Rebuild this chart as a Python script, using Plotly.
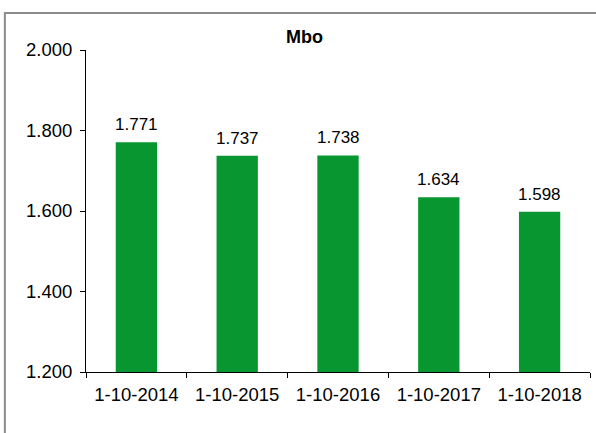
import plotly.graph_objects as go

dates = ['1-10-2014', '1-10-2015', '1-10-2016', '1-10-2017', '1-10-2018']
mbo = [1771, 1737, 1738, 1634, 1598]
y_ticks = [1200, 1400, 1600, 1800, 2000]

BAR_GREEN = '#07962F'

fig = go.Figure()
fig.add_trace(
    go.Bar(
        x=dates,
        y=mbo,
        marker_color=BAR_GREEN,
        marker_line_width=0,
        width=0.41,
    )
)

fig.update_layout(
    width=596,
    height=433,
    margin=dict(l=86, r=6, t=50, b=61),
    paper_bgcolor='#ffffff',
    plot_bgcolor='#ffffff',
    separators=',.',
    showlegend=False,
    font=dict(family='Liberation Sans, Arial', color='#000000'),
    xaxis=dict(
        type='category',
        tickson='boundaries',
        ticks='outside',
        ticklen=5,
        tickcolor='#000000',
        showline=True,
        linecolor='#000000',
        linewidth=1,
        showgrid=False,
        tickfont=dict(size=18.5),
        ticklabelstandoff=6,
    ),
    yaxis=dict(
        range=[1200, 2000],
        tickvals=y_ticks,
        tickformat=',.0f',
        ticks='outside',
        ticklen=5,
        tickcolor='#000000',
        showline=True,
        linecolor='#000000',
        linewidth=1,
        showgrid=False,
        zeroline=False,
        tickfont=dict(size=18.5),
        ticklabelstandoff=4,
    ),
)

# data labels above the bars (dutch thousands separator)
for d, v in zip(dates, mbo):
    fig.add_annotation(
        x=d, y=v, xref='x', yref='y',
        text=f'{v:,}'.replace(',', '.'),
        showarrow=False, yanchor='bottom', yshift=6,
        font=dict(size=17, color='#000000'),
    )

# Excel-style chart area border
fig.add_shape(
    type='rect', xref='paper', yref='paper',
    x0=-0.161, x1=1.2, y0=-0.5, y1=1.115,
    line=dict(color='#8c8c8c', width=2),
    layer='below',
)

fig.add_annotation(
    text='<b>Mbo</b>', xref='paper', yref='paper',
    x=0.4345, y=1.04, yanchor='middle', showarrow=False,
    font=dict(size=18, color='#000000'),
)

# drop the default 8px body margin so the figure sits at the window origin
fig.write_html("out.html", config={'displayModeBar': False},
               post_script="document.body.style.margin='0';")
